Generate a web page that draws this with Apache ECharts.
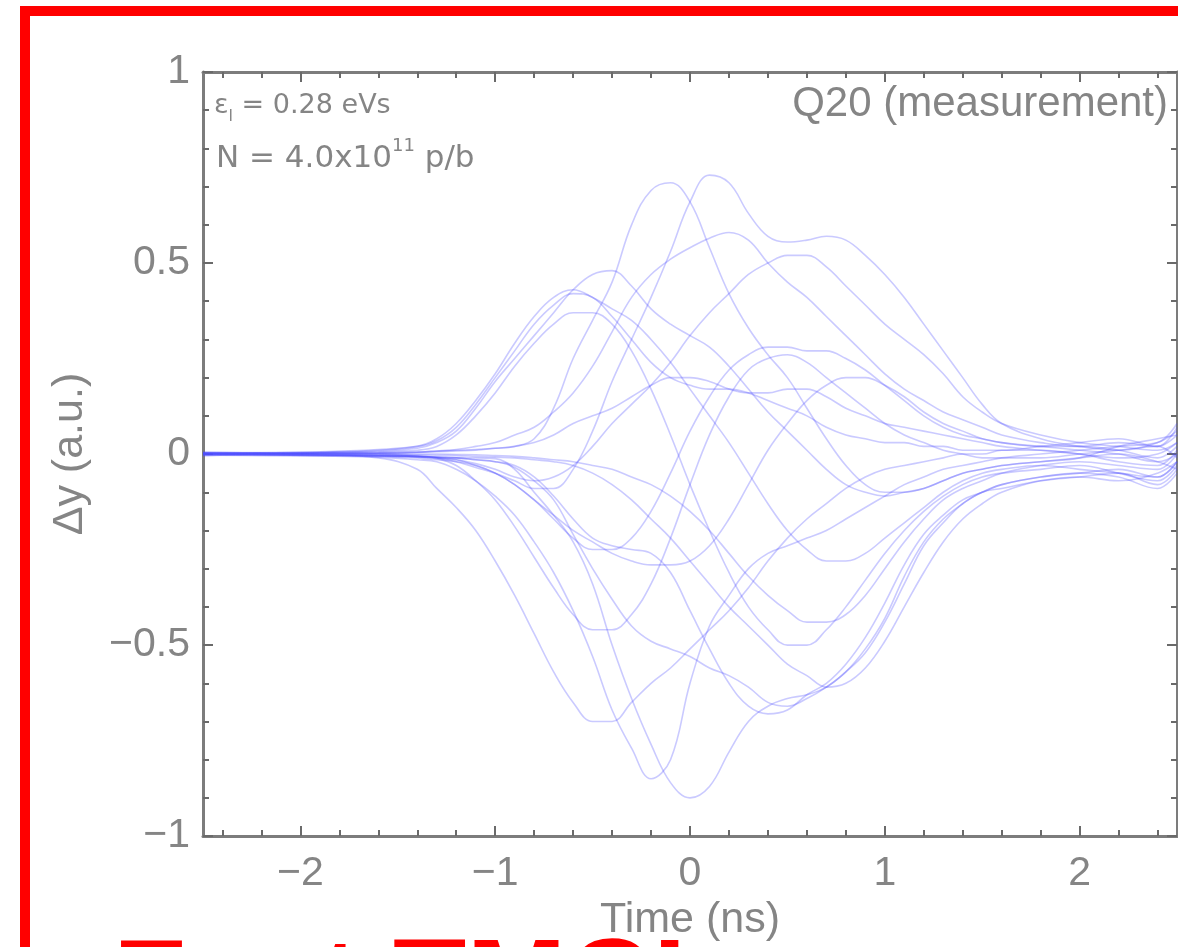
<!DOCTYPE html>
<html>
<head>
<meta charset="utf-8">
<script src="https://cdn.jsdelivr.net/npm/echarts@6/dist/echarts.min.js"></script>
<style>
html,body{margin:0;padding:0;background:#fff;}
#chart{width:1178px;height:947px;}
</style>
</head>
<body>
<div id="chart"></div>
<script>
// ---- data (time in ns, Δy in a.u.) ----
const times = [-2.5,-2.2,-1.9,-1.6,-1.4,-1.3,-1.2,-1.1,-1.0,-0.9,-0.8,-0.7,-0.6,-0.5,-0.4,-0.3,-0.2,-0.1,0,0.1,0.2,0.3,0.4,0.5,0.6,0.7,0.8,0.9,1.0,1.1,1.2,1.3,1.4,1.5,1.6,1.8,2.0,2.2,2.4,2.5];

const traceP1 = [0.005,0.003,0.002,0,-0.005,-0.01,-0.02,-0.035,-0.05,-0.07,
 -0.09,-0.09,-0.04,0.06,0.19,0.3,0.41,0.53,0.66,0.73,
 0.71,0.63,0.57,0.555,0.56,0.57,0.56,0.52,0.47,0.41,
 0.34,0.27,0.2,0.13,0.08,0.04,0.02,0.01,0.03,0.06];
const traceP2 = [-0.005,0,0.002,0.003,0.005,0.008,0.01,0.012,0.015,0.02,
 0.04,0.12,0.25,0.35,0.45,0.6,0.69,0.71,0.66,0.54,
 0.42,0.33,0.26,0.2,0.12,0.04,-0.03,-0.08,-0.1,-0.1,
 -0.09,-0.07,-0.05,-0.04,-0.03,-0.02,-0.01,0,-0.02,-0.04];
const traceP3 = [0,0.002,0.003,0.004,0.005,0.008,0.012,0.02,0.03,0.05,
 0.07,0.11,0.16,0.23,0.32,0.41,0.47,0.51,0.54,0.565,
 0.58,0.56,0.5,0.45,0.41,0.36,0.31,0.26,0.21,0.17,
 0.14,0.11,0.09,0.07,0.05,0.03,0.02,0.03,0.02,0.05];
const traceP4 = [0.003,0.002,0,-0.003,-0.006,-0.01,-0.015,-0.025,-0.04,-0.06,
 -0.07,-0.06,-0.03,0.02,0.08,0.13,0.18,0.24,0.31,0.37,
 0.42,0.47,0.5,0.52,0.52,0.49,0.44,0.39,0.34,0.3,
 0.26,0.21,0.15,0.11,0.08,0.05,0.03,0.02,0.01,0.03];
const traceL1 = [0,0.002,0.004,0.008,0.015,0.03,0.06,0.12,0.19,0.25,
 0.31,0.37,0.43,0.47,0.48,0.44,0.38,0.34,0.31,0.28,
 0.23,0.17,0.11,0.06,0.01,-0.04,-0.08,-0.1,-0.11,-0.1,
 -0.09,-0.07,-0.05,-0.04,-0.03,-0.02,-0.01,0.02,0.04,0.05];
const traceL2 = [0.002,0.003,0.005,0.01,0.02,0.04,0.08,0.14,0.21,0.29,
 0.36,0.41,0.43,0.41,0.38,0.35,0.3,0.24,0.17,0.1,
 0.03,-0.05,-0.13,-0.2,-0.25,-0.28,-0.28,-0.26,-0.22,-0.18,
 -0.14,-0.1,-0.07,-0.05,-0.04,-0.03,-0.04,-0.05,-0.06,-0.02];
const traceL3 = [-0.003,0,0.003,0.006,0.01,0.02,0.05,0.1,0.16,0.23,
 0.29,0.34,0.37,0.37,0.34,0.27,0.17,0.05,-0.08,-0.2,
 -0.31,-0.4,-0.46,-0.5,-0.5,-0.46,-0.4,-0.33,-0.26,-0.2,
 -0.15,-0.11,-0.08,-0.06,-0.05,-0.04,-0.03,-0.05,-0.07,-0.03];
const traceL4 = [0.004,0.004,0.006,0.012,0.02,0.035,0.07,0.13,0.2,0.27,
 0.34,0.39,0.42,0.41,0.36,0.3,0.24,0.2,0.18,0.17,
 0.17,0.16,0.14,0.12,0.1,0.07,0.05,0.04,0.03,0.03,
 0.02,0.02,0.01,0.01,0.01,0.02,0.03,0.04,0.02,0.07];
const traceP5 = [0,-0.002,-0.004,-0.006,-0.01,-0.015,-0.02,-0.03,-0.05,-0.08,
 -0.12,-0.17,-0.22,-0.25,-0.25,-0.22,-0.15,-0.05,0.06,0.15,
 0.22,0.26,0.28,0.28,0.27,0.27,0.25,0.22,0.18,0.14,
 0.1,0.07,0.05,0.04,0.03,0.02,0.02,0.01,-0.01,0.02];
const traceP6 = [0.002,0.001,0,0.002,0.004,0.006,0.008,0.01,0.015,0.02,
 0.03,0.05,0.08,0.1,0.12,0.15,0.18,0.2,0.2,0.19,
 0.17,0.16,0.16,0.17,0.17,0.15,0.12,0.1,0.08,0.07,
 0.06,0.05,0.04,0.03,0.02,0.01,0,-0.01,0,0.03];
const traceN1 = [0,-0.002,-0.003,-0.004,-0.006,-0.008,-0.01,-0.01,-0.012,-0.04,
 -0.1,-0.16,-0.23,-0.34,-0.5,-0.64,-0.76,-0.86,-0.9,-0.87,
 -0.78,-0.7,-0.66,-0.64,-0.63,-0.61,-0.57,-0.52,-0.44,-0.34,
 -0.24,-0.18,-0.13,-0.1,-0.08,-0.06,-0.05,-0.04,-0.06,-0.02];
const traceN2 = [-0.003,-0.004,-0.005,-0.008,-0.015,-0.02,-0.04,-0.07,-0.11,-0.16,
 -0.23,-0.31,-0.41,-0.53,-0.67,-0.77,-0.85,-0.8,-0.6,-0.45,
 -0.37,-0.3,-0.26,-0.24,-0.22,-0.2,-0.17,-0.14,-0.11,-0.08,
 -0.06,-0.04,-0.03,-0.02,-0.01,0,0.01,0.02,0.03,0.08];
const traceN3 = [0.003,0.001,-0.002,-0.01,-0.04,-0.09,-0.14,-0.2,-0.28,-0.37,
 -0.47,-0.57,-0.65,-0.7,-0.7,-0.65,-0.6,-0.56,-0.51,-0.46,
 -0.41,-0.35,-0.28,-0.22,-0.17,-0.13,-0.09,-0.06,-0.04,-0.03,
 -0.02,-0.01,0,0,0.01,0.01,0,-0.02,-0.03,0.01];
const traceN5 = [0,-0.002,-0.003,-0.005,-0.008,-0.012,-0.03,-0.07,-0.12,-0.19,
 -0.27,-0.35,-0.42,-0.46,-0.46,-0.42,-0.34,-0.22,-0.08,0.05,
 0.15,0.22,0.25,0.26,0.24,0.2,0.16,0.12,0.08,0.05,
 0.03,0.01,0,-0.01,-0.01,-0.01,0,0.01,0.02,-0.01];
const traceN6 = [-0.002,-0.003,-0.004,-0.005,-0.007,-0.01,-0.015,-0.03,-0.05,-0.08,
 -0.12,-0.16,-0.2,-0.23,-0.26,-0.28,-0.29,-0.29,-0.28,-0.24,
 -0.17,-0.08,0.01,0.08,0.14,0.18,0.2,0.2,0.18,0.15,
 0.11,0.08,0.06,0.04,0.03,0.02,0.01,0,-0.02,0];
const traceR1 = [0.002,0,-0.002,-0.003,-0.005,-0.008,-0.01,-0.015,-0.02,-0.035,
 -0.07,-0.12,-0.21,-0.3,-0.38,-0.45,-0.49,-0.51,-0.53,-0.56,
 -0.58,-0.61,-0.65,-0.66,-0.64,-0.61,-0.57,-0.51,-0.43,-0.32,
 -0.23,-0.17,-0.13,-0.1,-0.09,-0.07,-0.06,-0.05,-0.08,-0.04];
const traceR2 = [0,-0.001,-0.002,-0.004,-0.006,-0.008,-0.01,-0.015,-0.02,-0.03,
 -0.06,-0.11,-0.17,-0.22,-0.24,-0.25,-0.26,-0.31,-0.41,-0.51,
 -0.6,-0.66,-0.68,-0.67,-0.63,-0.6,-0.55,-0.48,-0.39,-0.29,
 -0.21,-0.16,-0.12,-0.1,-0.08,-0.06,-0.05,-0.06,-0.09,-0.05];
const traceR3 = [0.001,0.001,0,0,-0.002,-0.003,-0.004,-0.006,-0.008,-0.01,
 -0.015,-0.02,-0.03,-0.05,-0.08,-0.12,-0.17,-0.22,-0.28,-0.34,
 -0.4,-0.45,-0.5,-0.55,-0.58,-0.61,-0.6,-0.56,-0.49,-0.4,
 -0.31,-0.23,-0.17,-0.13,-0.1,-0.07,-0.06,-0.07,-0.05,-0.02];
const traceR4 = [0,0,0.001,0.001,0,0,-0.001,-0.002,-0.004,-0.006,
 -0.01,-0.015,-0.02,-0.03,-0.04,-0.06,-0.08,-0.11,-0.15,-0.2,
 -0.26,-0.32,-0.37,-0.41,-0.44,-0.44,-0.42,-0.37,-0.3,-0.23,
 -0.17,-0.12,-0.09,-0.07,-0.05,-0.03,-0.02,-0.03,-0.04,0];

const traces = [traceP1,traceP2,traceP3,traceP4,traceL1,traceL2,traceL3,traceL4,traceP5,traceP6,
  traceN1,traceN2,traceN3,traceN5,traceN6,traceR1,traceR2,traceR3,traceR4];

// ---- tick labels ----
const xMajorTicks = [-2,-1,0,1,2];
const xMinorTicks = [-2.4,-2.2,-1.8,-1.6,-1.4,-1.2,-0.8,-0.6,-0.4,-0.2,0.2,0.4,0.6,0.8,1.2,1.4,1.6,1.8,2.2,2.4];
const yMajorTicks = [-1,-0.5,0,0.5,1];
const yMinorTicks = [-0.9,-0.8,-0.7,-0.6,-0.4,-0.3,-0.2,-0.1,0.1,0.2,0.3,0.4,0.6,0.7,0.8,0.9];

const axisGray = '#7c7c7c';
const textGray = '#858585';
const fmt = v => (v < 0 ? '\u2212' + String(-v) : String(v));

function xAxisDef(position, ticks, len, withLine, withLabel) {
  return {
    type: 'value', min: -2.5, max: 2.5, position: position, gridIndex: 0,
    axisLine: { show: withLine, onZero: false, lineStyle: { color: axisGray, width: 3 } },
    axisTick: { show: true, inside: true, length: len, customValues: ticks, lineStyle: { color: '#6a6a6a', width: 2 } },
    axisLabel: withLabel ? { show: true, customValues: ticks, formatter: fmt, fontSize: 41, color: textGray, margin: 17, fontFamily: 'Liberation Sans' } : { show: false },
    splitLine: { show: false }
  };
}
function yAxisDef(position, ticks, len, withLine, withLabel) {
  return {
    type: 'value', min: -1, max: 1, position: position, gridIndex: 0,
    axisLine: { show: withLine, onZero: false, lineStyle: { color: axisGray, width: 3 } },
    axisTick: { show: true, inside: true, length: len, customValues: ticks, lineStyle: { color: '#6a6a6a', width: 2 } },
    axisLabel: withLabel ? { show: true, customValues: ticks, formatter: fmt, fontSize: 41, color: textGray, margin: 13, fontFamily: 'Liberation Sans' } : { show: false },
    splitLine: { show: false }
  };
}

const xAxes = [
  Object.assign(xAxisDef('bottom', xMajorTicks, 10, true, true), {
    name: 'Time (ns)', nameLocation: 'middle', nameGap: 57,
    nameTextStyle: { fontSize: 43, color: textGray, fontFamily: 'Liberation Sans' }
  }),
  xAxisDef('bottom', xMinorTicks, 6, false, false),
  xAxisDef('top', xMajorTicks, 10, true, false),
  xAxisDef('top', xMinorTicks, 6, false, false)
];
const yAxes = [
  Object.assign(yAxisDef('left', yMajorTicks, 10, true, true), {
    name: '\u0394y (a.u.)', nameLocation: 'middle', nameGap: 111, nameRotate: 90,
    nameTextStyle: { fontSize: 43, color: textGray, fontFamily: 'Liberation Sans' }
  }),
  yAxisDef('left', yMinorTicks, 6, false, false),
  yAxisDef('right', yMajorTicks, 10, true, false),
  yAxisDef('right', yMinorTicks, 6, false, false)
];

const series = traces.map((vals, k) => ({
  name: 'turn ' + (k + 1),
  type: 'line',
  xAxisIndex: 0, yAxisIndex: 0,
  data: times.map((t, i) => [t, vals[i]]),
  showSymbol: false, symbol: 'none',
  smooth: 0.4,
  lineStyle: { color: 'rgba(80,80,255,0.3)', width: 1.6 },
  emphasis: { disabled: true },
  silent: true,
  z: 2
}));

const chart = echarts.init(document.getElementById('chart'), null, { renderer: 'canvas' });
chart.setOption({
  animation: false,
  backgroundColor: '#ffffff',
  grid: { left: 203, top: 72, width: 974, height: 770, containLabel: false },
  xAxis: xAxes,
  yAxis: yAxes,
  series: series,
  graphic: [
    { type: 'rect', shape: { x: 20, y: 6, width: 1170, height: 10 }, style: { fill: '#ff0000' }, z: 100 },
    { type: 'rect', shape: { x: 20, y: 6, width: 10, height: 950 }, style: { fill: '#ff0000' }, z: 100 },
    { type: 'text', x: 113, y: 930, z: 100,
      style: { text: 'Fast TMCI', font: 'bold 120px "Liberation Sans"', fill: '#ff0000', align: 'left', verticalAlign: 'top' } },
    { type: 'text', x: 214, y: 106, z: 50,
      style: { text: '{m|\u03b5}{s|l}{m| = 0.28 eVs}', verticalAlign: 'middle', align: 'left',
        rich: {
          m: { fontSize: 27, fontFamily: 'DejaVu Sans', fill: textGray },
          s: { fontSize: 16, fontFamily: 'DejaVu Sans', fill: textGray, verticalAlign: 'bottom', lineHeight: 38 }
        } } },
    { type: 'text', x: 216, y: 159, z: 50,
      style: { text: '{m|N = 4.0x10}{p|11}{m| p/b}', verticalAlign: 'middle', align: 'left',
        rich: {
          m: { fontSize: 31, fontFamily: 'DejaVu Sans', fill: textGray },
          p: { fontSize: 18, fontFamily: 'DejaVu Sans', fill: textGray, verticalAlign: 'top', lineHeight: 43 }
        } } },
    { type: 'text', x: 1168, y: 104, z: 50,
      style: { text: 'Q20 (measurement)', font: '42px "Liberation Sans"', fill: textGray, align: 'right', verticalAlign: 'middle' } }
  ]
});
</script>
</body>
</html>
